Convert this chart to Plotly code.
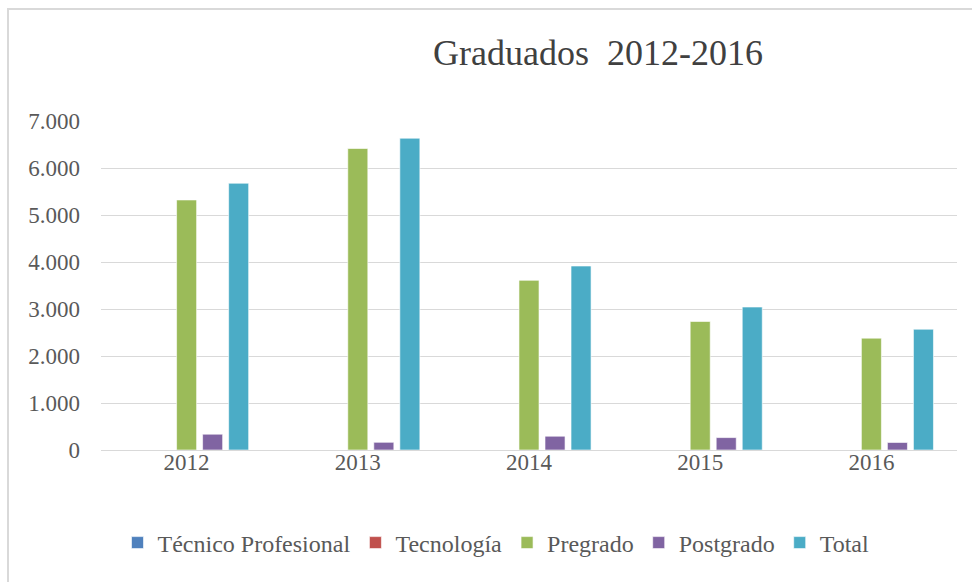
import plotly.graph_objects as go

years = ["2012", "2013", "2014", "2015", "2016"]
tecnico_profesional = [0, 0, 0, 0, 0]
tecnologia = [0, 0, 0, 0, 0]
pregrado = [5320, 6415, 3610, 2735, 2380]
postgrado = [336, 164, 293, 264, 160]
total = [5676, 6634, 3915, 3042, 2570]

series = [
    ("Técnico Profesional", tecnico_profesional, "#4F81BD"),
    ("Tecnología", tecnologia, "#C0504D"),
    ("Pregrado", pregrado, "#9BBB59"),
    ("Postgrado", postgrado, "#8064A2"),
    ("Total", total, "#4BACC6"),
]

FONT = "Liberation Serif"
GREY = "#595959"

fig = go.Figure()
for name, vals, color in series:
    fig.add_trace(go.Bar(
        x=years, y=vals, name=name,
        marker=dict(color=color, line=dict(color="rgba(255,255,255,0.6)", width=1)),
    ))

W, H = 972, 582
L, R, T, B = 101, 15, 121, 132
ph = H - T - B

fig.update_layout(
    width=W, height=H,
    margin=dict(l=L, r=R, t=T, b=B),
    paper_bgcolor="white", plot_bgcolor="white",
    separators=",.",
    barmode="group", bargap=0.24, bargroupgap=0.23,
    font=dict(family=FONT, color=GREY, size=23),
    title=dict(text="Graduados  2012-2016", font=dict(family=FONT, size=36, color="#404040"),
               x=598 / W, xref="container", xanchor="center",
               y=1 - 52 / H, yref="container", yanchor="middle"),
    legend=dict(orientation="h", x=496 / W, xref="container", xanchor="center",
                y=1 - 543 / H, yref="container", yanchor="middle", itemwidth=30,
                font=dict(family=FONT, size=24, color=GREY), itemclick=False),
    showlegend=True,
    xaxis=dict(showgrid=False, showline=True, linecolor="#d9d9d9", linewidth=1,
               ticks="", ticklabelstandoff=-9, tickfont=dict(size=23, color=GREY)),
    yaxis=dict(range=[0, 7000], dtick=1000, tickformat=",.0f", showgrid=True,
               gridcolor="#d9d9d9", gridwidth=1, zeroline=False, showline=False,
               ticks="", ticklabelstandoff=20, tickfont=dict(size=23, color=GREY)),
    shapes=[dict(type="rect", xref="paper", yref="paper",
                 x0=(8 - L) / (W - L - R), x1=(W + 20 - L) / (W - L - R),
                 y0=(H - B - (H + 20)) / ph, y1=(H - B - 9) / ph,
                 line=dict(color="#d9d9d9", width=2), layer="below")],
)

fig.write_html("out.html", config={"displayModeBar": False},
               post_script="document.body.style.margin='0';document.body.style.overflow='hidden';")
